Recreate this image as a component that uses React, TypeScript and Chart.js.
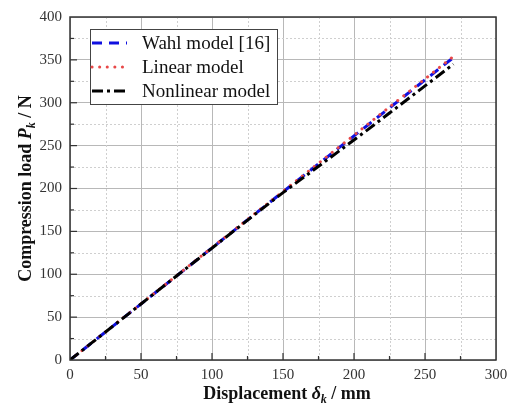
import { useEffect, useRef } from "react"
import { Chart, registerables } from "chart.js"

Chart.register(...registerables)

// displacement (mm) and compression load (N)
const displacement = [0, 15, 30, 45, 60, 75, 90, 105, 120, 135, 150, 165, 180, 195, 210, 225, 240, 255, 270]
const wahlLoad = [0, 19.6, 39.2, 58.8, 78.4, 98, 117.6, 137.3, 156.9, 176.5, 196.1, 215.6, 235.2, 254.8, 274.4, 294, 313.6, 333.1, 352.7]
const linearLoad = [0, 19.7, 39.3, 59, 78.7, 98.3, 118, 137.7, 157.3, 177, 196.6, 216.3, 236, 255.6, 275.3, 295, 314.6, 334.3, 354]
const nonlinearLoad = [0, 19.6, 39.2, 58.8, 78.4, 98, 117.5, 137, 156.5, 176, 195.2, 213.5, 232, 250.5, 269, 288, 307, 326, 345]

const seriesLabels = ["Wahl model [16]", "Linear model", "Nonlinear model"]
const seriesColors = ["#1010e0", "#e84848", "#000000"]
const seriesDash = [[10, 7], [0.1, 7.5], [11, 4, 3, 4]]
const seriesWidth = [3, 3, 3]

const SERIF = '"Liberation Serif", "Times New Roman", serif'

type Run = { text: string; font: string; dy?: number }

function drawRuns(ctx: CanvasRenderingContext2D, runs: Run[], cx: number, baseline: number) {
  let total = 0
  for (const r of runs) {
    ctx.font = r.font
    total += ctx.measureText(r.text).width
  }
  let x = cx - total / 2
  ctx.textBaseline = "alphabetic"
  ctx.textAlign = "left"
  for (const r of runs) {
    ctx.font = r.font
    ctx.fillText(r.text, x, baseline + (r.dy ?? 0))
    x += ctx.measureText(r.text).width
  }
}

const framePlugin = {
  id: "frame",
  beforeDatasetsDraw(chart: any) {
    const { ctx, chartArea: a, scales } = chart
    ctx.save()
    // minor dotted grid
    ctx.strokeStyle = "#cfcfcf"
    ctx.lineWidth = 1
    ctx.setLineDash([2, 2])
    for (let v = 25; v < 300; v += 50) {
      const px = Math.round(scales.x.getPixelForValue(v)) + 0.5
      ctx.beginPath()
      ctx.moveTo(px, a.top)
      ctx.lineTo(px, a.bottom)
      ctx.stroke()
    }
    for (let v = 25; v < 400; v += 50) {
      const py = Math.round(scales.y.getPixelForValue(v)) + 0.5
      ctx.beginPath()
      ctx.moveTo(a.left, py)
      ctx.lineTo(a.right, py)
      ctx.stroke()
    }
    ctx.restore()
  },
  afterDraw(chart: any) {
    const { ctx, chartArea: a, scales } = chart
    ctx.save()
    ctx.setLineDash([])
    ctx.strokeStyle = "#333"
    ctx.lineWidth = 1.5
    ctx.strokeRect(a.left, a.top, a.right - a.left, a.bottom - a.top)

    // inward ticks
    ctx.lineWidth = 1.2
    for (let v = 25; v < 300; v += 25) {
      const px = scales.x.getPixelForValue(v)
      const len = v % 50 === 0 ? 7 : 4
      ctx.beginPath()
      ctx.moveTo(px, a.bottom)
      ctx.lineTo(px, a.bottom - len)
      ctx.stroke()
    }
    for (let v = 25; v < 400; v += 25) {
      const py = scales.y.getPixelForValue(v)
      const len = v % 50 === 0 ? 7 : 4
      ctx.beginPath()
      ctx.moveTo(a.left, py)
      ctx.lineTo(a.left + len, py)
      ctx.stroke()
    }

    // legend
    const bx = 90, by = 29, bw = 187, bh = 75
    ctx.fillStyle = "#fff"
    ctx.fillRect(bx, by, bw, bh)
    ctx.strokeStyle = "#444"
    ctx.lineWidth = 1
    ctx.strokeRect(bx + 0.5, by + 0.5, bw, bh)
    const rows = [43, 67, 91]
    seriesLabels.forEach((label, i) => {
      ctx.save()
      ctx.strokeStyle = seriesColors[i]
      ctx.lineWidth = seriesWidth[i]
      ctx.setLineDash(seriesDash[i])
      ctx.lineCap = i === 1 ? "round" : "butt"
      ctx.beginPath()
      ctx.moveTo(92, rows[i])
      ctx.lineTo(127, rows[i])
      ctx.stroke()
      ctx.restore()
      ctx.fillStyle = "#111"
      ctx.font = `19px ${SERIF}`
      ctx.textBaseline = "middle"
      ctx.textAlign = "left"
      ctx.fillText(label, 142, rows[i] + 1)
    })

    // axis titles
    ctx.fillStyle = "#111"
    const b = `bold 18px ${SERIF}`
    const bi = `italic bold 18px ${SERIF}`
    const sub = `italic bold 12px ${SERIF}`
    drawRuns(ctx, [
      { text: "Displacement ", font: b },
      { text: "δ", font: bi },
      { text: "k", font: sub, dy: 4 },
      { text: " / mm", font: b },
    ], (a.left + a.right) / 2 + 4, 399)

    ctx.save()
    ctx.translate(31, (a.top + a.bottom) / 2)
    ctx.rotate(-Math.PI / 2)
    drawRuns(ctx, [
      { text: "Compression load ", font: b },
      { text: "P", font: bi },
      { text: "k", font: sub, dy: 4 },
      { text: " / N", font: b },
    ], 0, 0)
    ctx.restore()
    ctx.restore()
  },
}

export default function App() {
  const chartRef = useRef<HTMLCanvasElement>(null)
  const chartInstance = useRef<Chart | null>(null)

  useEffect(() => {
    if (!chartRef.current) return
    if (chartInstance.current) chartInstance.current.destroy()

    const toPoints = (ys: number[]) => displacement.map((x, i) => ({ x, y: ys[i] }))
    const loads = [wahlLoad, linearLoad, nonlinearLoad]

    chartInstance.current = new Chart(chartRef.current, {
      type: "line",
      data: {
        datasets: loads.map((ys, i) => ({
          label: seriesLabels[i],
          data: toPoints(ys),
          borderColor: seriesColors[i],
          borderWidth: seriesWidth[i],
          borderDash: seriesDash[i],
          borderCapStyle: i === 1 ? "round" : "butt",
          pointRadius: 0,
          tension: 0,
          fill: false,
          // black drawn on top
          order: 3 - i,
        })),
      },
      options: {
        animation: false,
        responsive: true,
        maintainAspectRatio: false,
        layout: { padding: { left: 0, top: 15, right: 28, bottom: 0 } },
        plugins: {
          legend: { display: false },
          tooltip: { enabled: false },
        },
        scales: {
          x: {
            type: "linear",
            min: 0,
            max: 300,
            afterFit: (s: any) => { s.height = 56 },
            ticks: {
              stepSize: 50,
              color: "#333",
              padding: 6,
              maxRotation: 0,
              font: { family: SERIF, size: 15 },
            },
            grid: { color: "#b8b8b8", lineWidth: 1, drawTicks: false },
            border: { display: false },
          },
          y: {
            type: "linear",
            min: 0,
            max: 400,
            afterFit: (s: any) => { s.width = 70 },
            ticks: {
              stepSize: 50,
              color: "#333",
              padding: 8,
              font: { family: SERIF, size: 15 },
            },
            grid: { color: "#b8b8b8", lineWidth: 1, drawTicks: false },
            border: { display: false },
          },
        },
      } as any,
      plugins: [framePlugin],
    })

    return () => {
      if (chartInstance.current) {
        chartInstance.current.destroy()
        chartInstance.current = null
      }
    }
  }, [])

  return (
    <div style={{ position: "fixed", left: 0, top: 0, width: 524, height: 416, background: "#fff" }}>
      <canvas ref={chartRef} />
    </div>
  )
}
